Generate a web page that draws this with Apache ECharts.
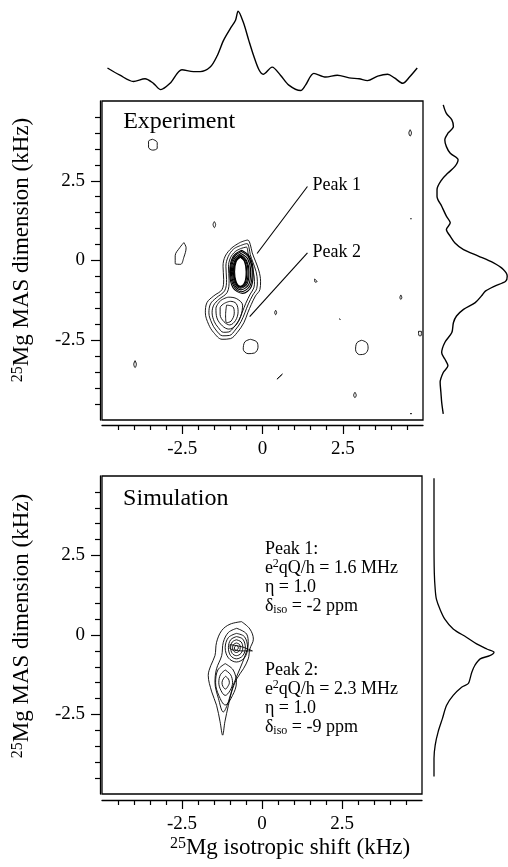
<!DOCTYPE html>
<html>
<head>
<meta charset="utf-8">
<script src="https://cdn.jsdelivr.net/npm/echarts@6/dist/echarts.min.js"></script>
<style>
  html, body { margin: 0; padding: 0; background: #fff; }
  #chart { width: 508px; height: 867px; }
</style>
</head>
<body>
<div id="chart"></div>
<script>
// ---- axis ticks (kHz) ----
var majorTicks = [-2.5, 0, 2.5];
var minorTicks = [-4.5, -4, -3.5, -3, -2, -1.5, -1, -0.5, 0.5, 1, 1.5, 2, 3, 3.5, 4, 4.5];

// ---- projections: [shift, intensity] and [intensity, MAS] ----
var topProj = [[-4.83,0.30],[-4.44,0.22],[-4.02,0.15],[-3.66,0.18],[-3.40,0.13],[-3.17,0.06],[-2.88,0.13],
  [-2.51,0.28],[-2.15,0.26],[-1.94,0.26],[-1.63,0.31],[-1.42,0.43],[-1.21,0.61],[-1.00,0.74],[-0.84,0.83],
  [-0.76,0.93],[-0.60,0.81],[-0.43,0.61],[-0.27,0.43],[-0.11,0.28],[0.02,0.23],[0.30,0.31],[0.56,0.22],
  [0.82,0.11],[1.19,0.05],[1.34,0.11],[1.60,0.24],[1.97,0.20],[2.33,0.22],[2.70,0.19],[3.01,0.18],
  [3.27,0.16],[3.59,0.21],[3.90,0.23],[4.11,0.19],[4.37,0.13],[4.58,0.20],[4.82,0.30]];

var expRightProj = [[0.17,4.88],[0.21,4.61],[0.28,4.41],[0.30,4.20],[0.23,3.99],[0.19,3.78],[0.21,3.57],
  [0.26,3.36],[0.36,3.16],[0.32,2.95],[0.23,2.74],[0.15,2.53],[0.09,2.22],[0.09,2.01],[0.15,1.70],
  [0.21,1.39],[0.26,1.18],[0.21,0.97],[0.26,0.76],[0.32,0.55],[0.43,0.34],[0.62,0.14],[0.81,-0.07],
  [0.94,-0.28],[0.99,-0.49],[0.97,-0.65],[0.83,-0.80],[0.71,-0.96],[0.66,-1.11],[0.58,-1.32],
  [0.43,-1.53],[0.34,-1.74],[0.30,-1.95],[0.28,-2.26],[0.19,-2.57],[0.15,-2.89],[0.19,-3.09],
  [0.23,-3.30],[0.17,-3.51],[0.13,-3.82],[0.14,-4.14],[0.15,-4.45],[0.17,-4.81]];

var simRightProj = [[0,4.93],[0,3.0],[0.005,1.96],[0.02,1.44],[0.04,1.13],[0.10,0.81],[0.18,0.50],
  [0.32,0.19],[0.54,-0.07],[0.71,-0.28],[0.88,-0.44],[1.0,-0.54],[0.93,-0.65],[0.77,-0.75],
  [0.68,-0.96],[0.63,-1.17],[0.60,-1.38],[0.57,-1.53],[0.46,-1.64],[0.32,-1.90],[0.21,-2.21],
  [0.14,-2.63],[0.07,-3.04],[0.02,-3.46],[0,-3.88],[0,-4.45]];

// ---- experiment contours [shift, MAS] ----
var expOuter = [
  [[-0.69,0.57],[-0.46,0.64],[-0.38,0.50],[-0.32,0.24],[-0.22,-0.02],[-0.11,-0.33],[-0.06,-0.65],[-0.08,-0.91],
   [-0.22,-1.11],[-0.35,-1.38],[-0.46,-1.64],[-0.58,-1.95],[-0.79,-2.26],[-1.00,-2.45],[-1.26,-2.47],[-1.52,-2.26],
   [-1.68,-2.00],[-1.78,-1.64],[-1.73,-1.32],[-1.52,-1.11],[-1.26,-0.91],[-1.21,-0.59],[-1.23,-0.18],[-1.16,0.14],[-0.95,0.40]],
  [[-0.68,0.47],[-0.48,0.53],[-0.42,0.40],[-0.38,0.18],[-0.30,-0.05],[-0.20,-0.35],[-0.16,-0.65],[-0.18,-0.88],
   [-0.30,-1.08],[-0.44,-1.36],[-0.55,-1.64],[-0.67,-1.92],[-0.85,-2.18],[-1.03,-2.35],[-1.24,-2.36],[-1.45,-2.18],
   [-1.58,-1.96],[-1.67,-1.64],[-1.62,-1.36],[-1.44,-1.17],[-1.18,-0.95],[-1.12,-0.60],[-1.14,-0.18],[-1.07,0.12],[-0.90,0.36]],
  [[-0.66,0.38],[-0.50,0.42],[-0.46,0.30],[-0.43,0.10],[-0.36,-0.10],[-0.28,-0.38],[-0.25,-0.66],[-0.27,-0.86],
   [-0.38,-1.05],[-0.52,-1.34],[-0.63,-1.62],[-0.74,-1.88],[-0.90,-2.10],[-1.05,-2.24],[-1.22,-2.25],[-1.38,-2.10],
   [-1.50,-1.92],[-1.57,-1.64],[-1.52,-1.40],[-1.36,-1.22],[-1.10,-1.00],[-1.04,-0.62],[-1.06,-0.20],[-1.00,0.08],[-0.85,0.28]]
];
var expPeak2 = [
  [[-1.30,-1.25],[-1.05,-1.15],[-0.80,-1.20],[-0.62,-1.40],[-0.68,-1.75],[-0.85,-2.05],[-1.05,-2.15],[-1.25,-2.05],[-1.42,-1.80],[-1.45,-1.50]],
  [[-1.20,-1.35],[-1.00,-1.28],[-0.82,-1.35],[-0.76,-1.60],[-0.84,-1.88],[-1.02,-2.02],[-1.20,-1.92],[-1.32,-1.70],[-1.32,-1.48]],
  [[-1.12,-1.40],[-0.92,-1.45],[-0.88,-1.65],[-0.98,-1.90],[-1.12,-1.95],[-1.15,-1.70]]
];
var expPeak1 = [
  [[-0.65,0.32],[-0.40,0.12],[-0.29,-0.35],[-0.35,-0.82],[-0.62,-1.03],[-0.92,-0.85],[-1.02,-0.35],[-0.92,0.12]],
  [[-0.66,0.28],[-0.42,0.09],[-0.32,-0.35],[-0.39,-0.79],[-0.66,-0.98],[-0.90,-0.79],[-1.00,-0.35],[-0.90,0.09]],
  [[-0.67,0.22],[-0.46,0.05],[-0.37,-0.35],[-0.43,-0.75],[-0.67,-0.92],[-0.88,-0.75],[-0.97,-0.35],[-0.88,0.05]],
  [[-0.68,0.17],[-0.50,0.01],[-0.42,-0.35],[-0.47,-0.71],[-0.68,-0.87],[-0.86,-0.71],[-0.94,-0.35],[-0.86,0.01]],
  [[-0.68,0.14],[-0.52,-0.01],[-0.45,-0.35],[-0.50,-0.69],[-0.68,-0.84],[-0.84,-0.69],[-0.91,-0.35],[-0.84,-0.01]],
  [[-0.69,0.12],[-0.55,-0.02],[-0.49,-0.35],[-0.53,-0.68],[-0.69,-0.82],[-0.83,-0.68],[-0.89,-0.35],[-0.83,-0.02]],
  [[-0.69,0.11],[-0.56,-0.03],[-0.51,-0.35],[-0.55,-0.67],[-0.69,-0.81],[-0.82,-0.67],[-0.87,-0.35],[-0.82,-0.03]]
];
var expNoise = [
  [[-3.42,3.80],[-3.28,3.70],[-3.28,3.52],[-3.42,3.46],[-3.55,3.55],[-3.55,3.74]],
  [[-2.45,0.56],[-2.38,0.40],[-2.45,0.10],[-2.55,-0.12],[-2.72,-0.10],[-2.72,0.15],[-2.58,0.40]],
  [[-0.38,-2.47],[-0.18,-2.55],[-0.14,-2.72],[-0.25,-2.90],[-0.45,-2.92],[-0.60,-2.78],[-0.55,-2.55]],
  [[3.09,-2.50],[3.25,-2.58],[3.29,-2.75],[3.20,-2.92],[3.02,-2.95],[2.90,-2.80],[2.94,-2.58]],
  [[-1.50,1.22],[-1.46,1.13],[-1.50,1.03],[-1.54,1.13]],
  [[4.60,4.10],[4.64,4.00],[4.60,3.90],[4.56,4.00]],
  [[1.62,-0.58],[1.70,-0.66],[1.64,-0.68]],
  [[0.41,-1.56],[0.44,-1.63],[0.41,-1.70],[0.38,-1.63]],
  [[4.31,-1.08],[4.34,-1.16],[4.31,-1.22],[4.28,-1.16]],
  [[2.40,-1.83],[2.43,-1.86]],
  [[4.86,-2.22],[4.88,-2.36],[4.94,-2.36],[4.95,-2.22]],
  [[-3.97,-3.14],[-3.93,-3.25],[-3.97,-3.36],[-4.01,-3.25]],
  [[0.45,-3.72],[0.62,-3.56]],
  [[2.88,-4.13],[2.92,-4.22],[2.88,-4.30],[2.84,-4.22]],
  [[4.60,-4.80],[4.65,-4.80]],
  [[4.61,1.31],[4.64,1.31]]
];

// ---- simulation contours ----
var simRings = [
  [[-0.64,0.42],[-0.38,0.19],[-0.27,-0.13],[-0.38,-0.44],[-0.43,-0.75],[-0.58,-1.06],[-0.79,-1.38],[-0.95,-1.79],
   [-1.05,-2.21],[-1.16,-2.73],[-1.23,-3.15],[-1.31,-2.73],[-1.42,-2.21],[-1.57,-1.79],[-1.68,-1.27],[-1.60,-0.96],
   [-1.47,-0.65],[-1.42,-0.23],[-1.26,0.14],[-1.00,0.34]],
  [[-0.79,0.21],[-0.48,0.03],[-0.43,-0.28],[-0.53,-0.65],[-0.69,-1.06],[-0.90,-1.58],[-1.05,-2.10],[-1.21,-2.42],
   [-1.36,-2.00],[-1.47,-1.48],[-1.42,-1.06],[-1.26,-0.65],[-1.21,-0.23],[-1.05,0.08]],
  [[-0.80,0.05],[-0.55,-0.05],[-0.45,-0.40],[-0.55,-0.72],[-0.80,-0.85],[-1.05,-0.72],[-1.15,-0.40],[-1.05,-0.08]],
  [[-0.80,-0.05],[-0.60,-0.13],[-0.52,-0.40],[-0.60,-0.65],[-0.80,-0.75],[-0.98,-0.65],[-1.05,-0.40],[-0.98,-0.15]],
  [[-0.80,-0.15],[-0.65,-0.22],[-0.60,-0.40],[-0.66,-0.58],[-0.80,-0.65],[-0.93,-0.58],[-0.98,-0.40],[-0.93,-0.22]],
  [[-0.80,-0.25],[-0.70,-0.30],[-0.68,-0.40],[-0.71,-0.50],[-0.80,-0.55],[-0.89,-0.50],[-0.92,-0.40],[-0.89,-0.30]],
  [[-0.80,-0.33],[-0.75,-0.36],[-0.74,-0.41],[-0.77,-0.46],[-0.82,-0.48],[-0.86,-0.44],[-0.86,-0.38]],
  [[-1.00,-0.30],[-0.60,-0.38],[-0.30,-0.50],[-0.60,-0.50],[-1.00,-0.42]],
  [[-1.15,-0.90],[-0.90,-1.10],[-0.80,-1.50],[-0.92,-1.90],[-1.15,-2.20],[-1.35,-1.90],[-1.45,-1.50],[-1.38,-1.10]],
  [[-1.15,-1.10],[-0.98,-1.25],[-0.92,-1.50],[-1.00,-1.75],[-1.15,-1.90],[-1.28,-1.75],[-1.35,-1.50],[-1.30,-1.25]],
  [[-1.14,-1.30],[-1.05,-1.38],[-1.02,-1.50],[-1.07,-1.62],[-1.14,-1.70],[-1.22,-1.62],[-1.25,-1.50],[-1.21,-1.38]]
];

// ---- leader lines for the peak labels ----
var peak1Leader = [[1.40,2.32],[-0.17,0.22]];
var peak2Leader = [[1.40,0.24],[-0.40,-1.76]];

var F = '"Liberation Serif", "Times New Roman", serif';

var myChart = echarts.init(document.getElementById('chart'), null, { renderer: 'canvas' });

function minorAxis(g, off, pos) {
  return {
    gridIndex: g, type: 'value', position: pos, min: -5, max: 5, interval: 0.5, offset: off,
    axisLine: { show: true, onZero: false, lineStyle: { color: '#000', width: 1.3 } },
    axisTick: { show: true, length: 5, customValues: minorTicks, lineStyle: { color: '#000', width: 1.2 } },
    axisLabel: {
      show: true, customValues: majorTicks, margin: 15, color: '#000', fontFamily: F, fontSize: 19,
      formatter: function (v) { return majorTicks.indexOf(v) >= 0 ? String(v) : ''; }
    },
    splitLine: { show: false }
  };
}
function majorAxis(g, off, pos) {
  return {
    gridIndex: g, type: 'value', position: pos, min: -5, max: 5, interval: 2.5, offset: off,
    axisLine: { show: false, onZero: false },
    axisTick: { show: true, length: 9, customValues: majorTicks, lineStyle: { color: '#000', width: 1.2 } },
    axisLabel: { show: false },
    splitLine: { show: false }
  };
}
function hiddenAxis(g, mn, mx) {
  return { gridIndex: g, type: 'value', min: mn, max: mx, show: false, axisLine: { onZero: false }, splitLine: { show: false } };
}

function ring(pts, xi, yi, w) {
  return {
    type: 'line', xAxisIndex: xi, yAxisIndex: yi, data: pts.concat([pts[0]]),
    symbol: 'none', smooth: 0.35, silent: true, z: 3,
    lineStyle: { color: '#000', width: w || 0.9 }
  };
}
function curve(pts, xi, yi, w, sm) {
  return {
    type: 'line', xAxisIndex: xi, yAxisIndex: yi, data: pts,
    symbol: 'none', smooth: sm, silent: true,
    lineStyle: { color: '#000', width: w }
  };
}
function textMark(xi, yi, pos, text, rich, fs, va) {
  return {
    type: 'scatter', xAxisIndex: xi, yAxisIndex: yi, symbolSize: 0, silent: true,
    itemStyle: { opacity: 1 },
    data: [pos],
    label: {
      show: true, position: 'right', distance: 0, formatter: text, color: '#000', opacity: 1,
      fontFamily: F, fontSize: fs, align: 'left', verticalAlign: va, rich: rich
    }
  };
}

var annRich = {
  n: { fontFamily: F, fontSize: 18, color: '#000', lineHeight: 19 },
  sup: { fontFamily: F, fontSize: 12, color: '#000', lineHeight: 19, padding: [0, 0, 8, 0] },
  sub: { fontFamily: F, fontSize: 12, color: '#000', lineHeight: 19, padding: [8, 0, 0, 0] }
};

var series = [];
expOuter.concat(expPeak2).forEach(function (p) { series.push(ring(p, 0, 0)); });
expPeak1.forEach(function (p) { series.push(ring(p, 0, 0, 1.1)); });
expNoise.forEach(function (p) { series.push(ring(p, 0, 0)); });
simRings.forEach(function (p) { series.push(ring(p, 4, 4)); });
series.push(curve(topProj, 2, 2, 1.4, 0.3));
series.push(curve(expRightProj, 3, 3, 1.4, 0.3));
series.push(curve(simRightProj, 6, 6, 1.3, 0.3));
series.push(curve(peak1Leader, 0, 0, 1.1, false));
series.push(curve(peak2Leader, 0, 0, 1.1, false));

series.push(textMark(0, 0, [-4.34, 4.34], 'Experiment', null, 24, 'middle'));
series.push(textMark(4, 4, [-4.34, 4.28], 'Simulation', null, 24, 'middle'));
series.push(textMark(0, 0, [1.56, 2.37], 'Peak 1', null, 18, 'middle'));
series.push(textMark(0, 0, [1.56, 0.25], 'Peak 2', null, 18, 'middle'));
series.push(textMark(4, 4, [0.09, 3.0],
  '{n|Peak 1:}\n{n|e}{sup|2}{n|qQ/h = 1.6 MHz}\n{n|η = 1.0}\n{n|δ}{sub|iso}{n| = -2 ppm}', annRich, 18, 'top'));
series.push(textMark(4, 4, [0.09, -0.81],
  '{n|Peak 2:}\n{n|e}{sup|2}{n|qQ/h = 2.3 MHz}\n{n|η = 1.0}\n{n|δ}{sub|iso}{n| = -9 ppm}', annRich, 18, 'top'));

var nameRich = {
  s: { fontSize: 16, fontFamily: F, fill: '#000', padding: [0, 0, 9, 0] },
  m: { fontSize: 23, fontFamily: F, fill: '#000' }
};

var option = {
  animation: false,
  backgroundColor: '#fff',
  grid: [
    { left: 102, top: 101, width: 321, height: 319, show: true, borderColor: '#000', borderWidth: 1.3, backgroundColor: 'transparent' },
    { left: 102, top: 5, width: 321, height: 90 },
    { left: 430, top: 101, width: 78, height: 319 },
    { left: 102, top: 476, width: 320, height: 318, show: true, borderColor: '#000', borderWidth: 1.3, backgroundColor: 'transparent' },
    { left: 434, top: 476, width: 60, height: 318 }
  ],
  xAxis: [
    minorAxis(0, 5, 'bottom'), majorAxis(0, 5, 'bottom'),
    hiddenAxis(1, -5, 5), hiddenAxis(2, 0, 1),
    minorAxis(3, 6, 'bottom'), majorAxis(3, 6, 'bottom'),
    hiddenAxis(4, 0, 1)
  ],
  yAxis: [
    minorAxis(0, 2, 'left'), majorAxis(0, 2, 'left'),
    hiddenAxis(1, 0, 1), hiddenAxis(2, -5, 5),
    minorAxis(3, 2, 'left'), majorAxis(3, 2, 'left'),
    hiddenAxis(4, -5, 5)
  ],
  graphic: [
    { type: 'text', x: 22, y: 250, rotation: Math.PI / 2,
      style: { text: '{s|25}{m|Mg MAS dimension (kHz)}', rich: nameRich, align: 'center', verticalAlign: 'middle' } },
    { type: 'text', x: 22, y: 626, rotation: Math.PI / 2,
      style: { text: '{s|25}{m|Mg MAS dimension (kHz)}', rich: nameRich, align: 'center', verticalAlign: 'middle' } },
    { type: 'text', x: 290, y: 848,
      style: { text: '{s|25}{m|Mg isotropic shift (kHz)}', rich: nameRich, align: 'center', verticalAlign: 'middle' } }
  ],
  series: series
};

myChart.setOption(option, true);
</script>
</body>
</html>
